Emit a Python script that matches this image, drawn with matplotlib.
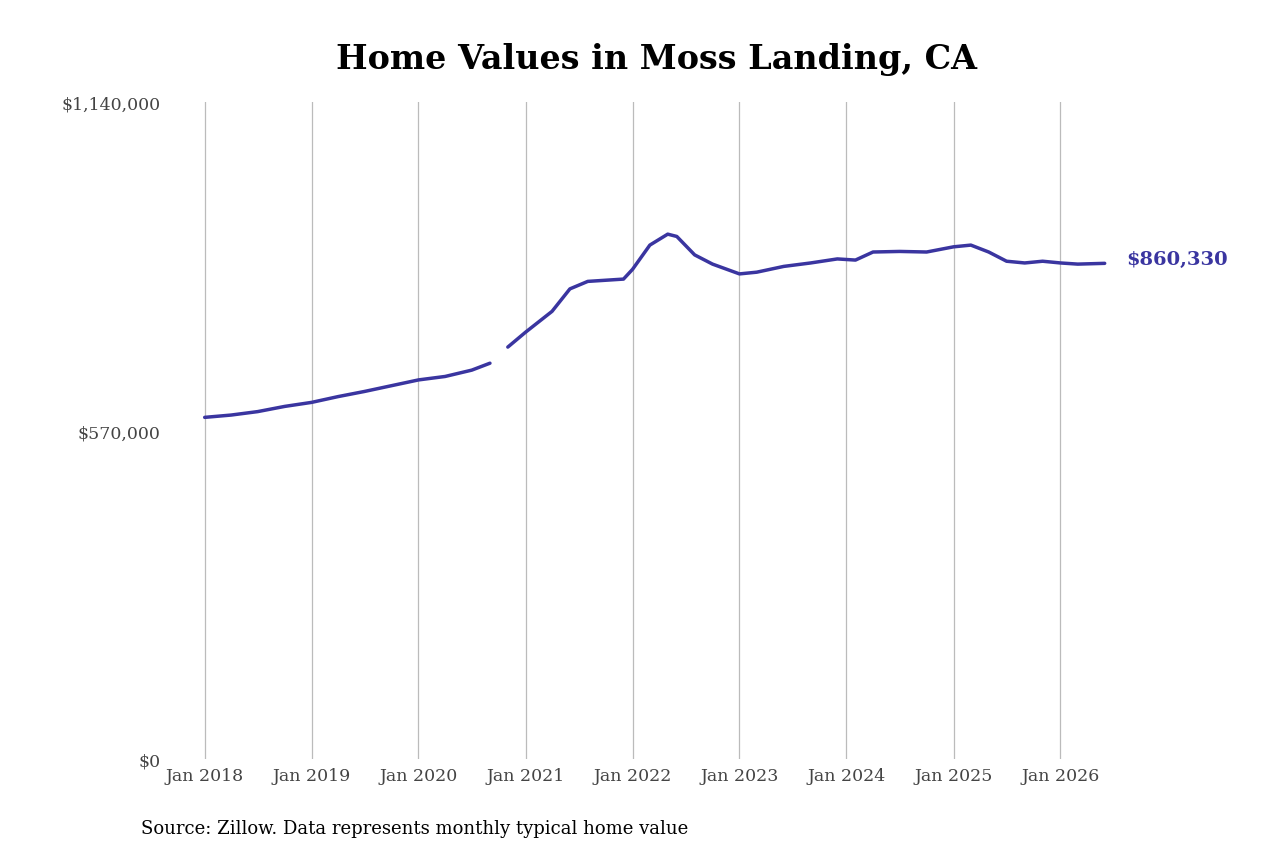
import numpy as np
import pandas as pd
import matplotlib
matplotlib.use("Agg")
import matplotlib.pyplot as plt

dates_a = ["2018-01", "2018-04", "2018-07", "2018-10", "2019-01", "2019-04", "2019-07",
           "2019-10", "2020-01", "2020-04", "2020-07", "2020-09"]
values_a = [593000, 597000, 603000, 612000, 619000, 629000, 638000, 648000, 658000, 664000, 675000, 687000]

dates_b = ["2020-11", "2021-01", "2021-04", "2021-06", "2021-08", "2021-12", "2022-01", "2022-03",
           "2022-05", "2022-06", "2022-08", "2022-10", "2023-01", "2023-03", "2023-06", "2023-09",
           "2023-12", "2024-02", "2024-04", "2024-07", "2024-10", "2025-01", "2025-03", "2025-05",
           "2025-07", "2025-09", "2025-11", "2026-01", "2026-03", "2026-06"]
values_b = [715000, 741000, 777000, 816000, 829000, 833000, 850000, 892000,
            911000, 907000, 875000, 859000, 842000, 845000, 855000, 861000,
            868000, 866000, 880000, 881000, 880000, 889000, 892000, 880000,
            864000, 861000, 864000, 861000, 859000, 860330]

tick_years = list(range(2018, 2027))
color = "#3a35a0"

plt.rcParams['font.family'] = ['DejaVu Serif']
fig = plt.figure(figsize=(12.8, 8.53), dpi=100)
ax = fig.add_axes([0.132, 0.109, 0.78, 0.77])

for d, v in [(dates_a, values_a), (dates_b, values_b)]:
    ax.plot(pd.to_datetime(d), v, color=color, lw=2.5,
            solid_capstyle='round', solid_joinstyle='round')

ax.set_ylim(0, 1140000)
ax.set_xlim(pd.Timestamp("2017-09-01"), pd.Timestamp("2027-01-01"))
ax.set_yticks([0, 570000, 1140000])
ax.set_yticklabels(["$0", "$570,000", "$1,140,000"], color="#444444", fontsize=12.5)
ax.set_xticks([pd.Timestamp(f"{y}-01-01") for y in tick_years])
ax.set_xticklabels([f"Jan {y}" for y in tick_years], color="#444444", fontsize=12.5)
ax.grid(axis='x', color="#bbbbbb", lw=0.9)
ax.tick_params(length=0, pad=6)
for s in ax.spines.values():
    s.set_visible(False)

ax.text(pd.Timestamp("2026-08-15"), values_b[-1] + 8000, "$860,330", color=color,
        fontsize=14, fontweight='bold', va='center')
fig.text(0.513, 0.93, "Home Values in Moss Landing, CA", ha='center', va='center',
         fontsize=24, fontweight='bold')
fig.text(0.11, 0.022, "Source: Zillow. Data represents monthly typical home value", fontsize=13)

fig.savefig("out.png", dpi=100, facecolor='white')
